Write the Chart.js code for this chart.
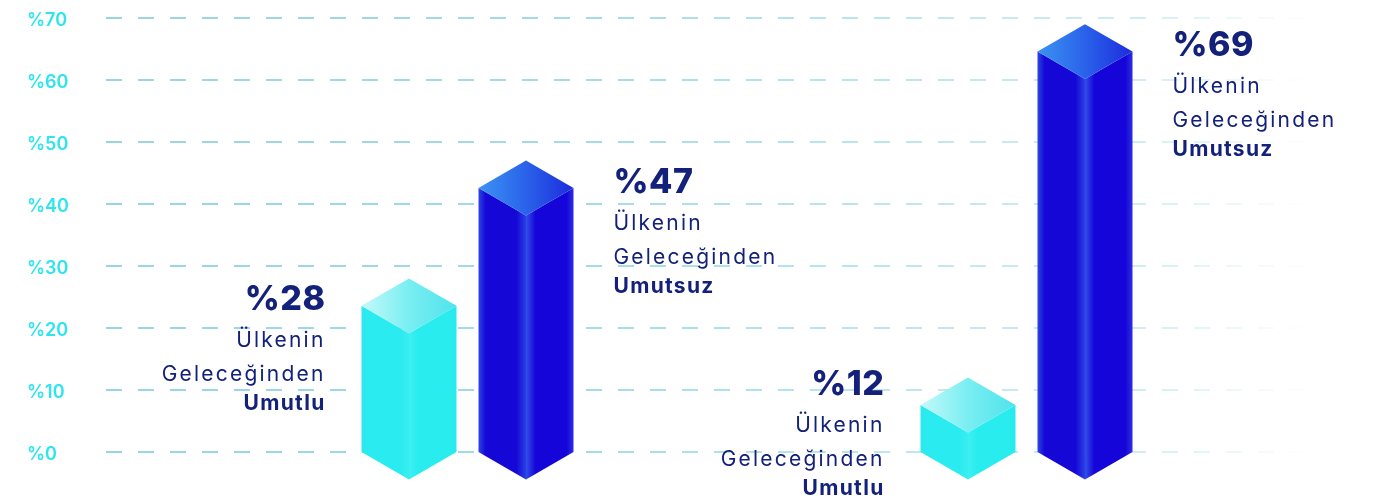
<!DOCTYPE html>
<html>
<head>
<meta charset="utf-8">
<script src="https://cdn.jsdelivr.net/npm/chart.js@4"></script>
<style>
  html, body { margin: 0; padding: 0; background: #fff; }
  #wrap { width: 1392px; height: 502px; position: relative; }
</style>
</head>
<body>
<div id="wrap"><canvas id="umutChart"></canvas></div>
<script>
// Data
var groupLabels = ['Grup 1', 'Grup 2'];
var seriesNames = ['Umutlu', 'Umutsuz'];
var umutluValues = [28, 12];
var umutsuzValues = [47, 69];
var captionLine1 = 'Ülkenin';
var captionLine2 = 'Geleceğinden';

var FONT = 'Inter, "Noto Sans", sans-serif';
var NAVY = '#13217a';

// dashed grid lines that fade out to the right
var gridPlugin = {
  id: 'fadeGrid',
  beforeDatasetsDraw: function(chart) {
    var ctx = chart.ctx;
    var y = chart.scales.y;
    var x0 = chart.chartArea.left - 82;
    var x1 = chart.chartArea.right + 6;
    var grad = ctx.createLinearGradient(x0, 0, x1, 0);
    grad.addColorStop(0, 'rgba(150,214,226,1)');
    grad.addColorStop(0.4, 'rgba(160,218,228,0.95)');
    grad.addColorStop(0.85, 'rgba(175,224,232,0.6)');
    grad.addColorStop(1, 'rgba(190,230,236,0)');
    ctx.save();
    ctx.strokeStyle = grad;
    ctx.lineWidth = 2;
    ctx.setLineDash([16, 16]);
    y.ticks.forEach(function(t) {
      var py = Math.round(y.getPixelForValue(t.value));
      ctx.beginPath();
      ctx.moveTo(x0, py);
      ctx.lineTo(x1, py);
      ctx.stroke();
    });
    ctx.restore();
  }
};

function poly(ctx, pts, fill) {
  ctx.beginPath();
  ctx.moveTo(pts[0][0], pts[0][1]);
  for (var i = 1; i < pts.length; i++) ctx.lineTo(pts[i][0], pts[i][1]);
  ctx.closePath();
  ctx.fillStyle = fill;
  ctx.fill();
}

var palettes = [
  { // cyan
    left: ['#2be9ee', '#2aebef', '#38eef2'],
    right: ['#3ef0f3', '#29ecee', '#2ae8ee'],
    top: ['#c4f9f9', '#79eef2', '#4fe3ec']
  },
  { // blue
    left: ['#2d46e4', '#1508d6', '#2a40e6'],
    right: ['#3250e8', '#1505d8', '#2b2ee2'],
    top: ['#3c93f3', '#2a62ea', '#1c2cdc']
  }
];

// isometric prisms drawn from bar elements
var prismPlugin = {
  id: 'prisms',
  afterDatasetsDraw: function(chart) {
    var ctx = chart.ctx;
    ctx.save();
    chart.data.datasets.forEach(function(ds, di) {
      var pal = palettes[di];
      chart.getDatasetMeta(di).data.forEach(function(bar, i) {
        var cx = bar.x, w = bar.width, h = w / 2;
        var top = bar.y, base = bar.base;
        var d = h * Math.tan(Math.PI / 6);
        var L = cx - h, R = cx + h;
        var g = ctx.createLinearGradient(L, 0, cx, 0);
        g.addColorStop(0, pal.left[0]);
        g.addColorStop(0.15, pal.left[1]);
        g.addColorStop(0.8, pal.left[1]);
        g.addColorStop(1, pal.left[2]);
        poly(ctx, [[L, top + d], [cx, top + 2 * d], [cx, base + d], [L, base]], g);
        g = ctx.createLinearGradient(cx, 0, R, 0);
        g.addColorStop(0, pal.right[0]);
        g.addColorStop(0.2, pal.right[1]);
        g.addColorStop(0.85, pal.right[1]);
        g.addColorStop(1, pal.right[2]);
        poly(ctx, [[cx, top + 2 * d], [R, top + d], [R, base], [cx, base + d]], g);
        g = ctx.createLinearGradient(L, top + d, R, top + d);
        g.addColorStop(0, pal.top[0]);
        g.addColorStop(0.5, pal.top[1]);
        g.addColorStop(1, pal.top[2]);
        poly(ctx, [[cx, top], [R, top + d], [cx, top + 2 * d], [L, top + d]], g);

        // caption
        var value = ds.data[i];
        var b = Math.min(top + 32, chart.height - 107);
        var tx, align;
        if (di === 0) { tx = L - 36; align = 'right'; }
        else { tx = R + 40; align = 'left'; }
        ctx.textAlign = align;
        ctx.textBaseline = 'alphabetic';
        ctx.fillStyle = NAVY;
        ctx.font = '800 34px ' + FONT;
        ctx.letterSpacing = '0.5px';
        ctx.fillText('%' + value, tx, b);
        ctx.font = '400 21px ' + FONT;
        ctx.letterSpacing = '2.2px';
        ctx.fillText(captionLine1, tx, b + 37);
        ctx.fillText(captionLine2, tx, b + 71);
        ctx.font = '700 21px ' + FONT;
        ctx.letterSpacing = '1.3px';
        ctx.fillText(ds.label, tx, b + 100);
        ctx.letterSpacing = '0px';
      });
    });
    ctx.restore();
  }
};

var umutctx = document.getElementById('umutChart').getContext('2d');
var umutChart = new Chart(umutctx, {
  type: 'bar',
  data: {
    labels: groupLabels,
    datasets: [{
      label: seriesNames[0],
      data: umutluValues,
      backgroundColor: 'rgba(0,0,0,0)'
    }, {
      label: seriesNames[1],
      data: umutsuzValues,
      backgroundColor: 'rgba(0,0,0,0)'
    }]
  },
  options: {
    responsive: true,
    maintainAspectRatio: false,
    animation: false,
    categoryPercentage: 0.4186,
    barPercentage: 0.812,
    layout: { padding: { left: 27, right: 86, top: 18, bottom: 50 } },
    plugins: { legend: { display: false }, tooltip: { enabled: false } },
    scales: {
      x: { display: false },
      y: {
        min: 0,
        max: 70,
        afterFit: function(scale) { scale.width = 161; },
        border: { display: false },
        grid: { display: false },
        ticks: {
          stepSize: 10,
          crossAlign: 'far',
          labelOffset: 3,
          color: '#2ee4ee',
          font: { family: FONT, size: 18, weight: '600', lineHeight: 1.0 },
          callback: function(v) { return '%' + v; }
        }
      }
    }
  },
  plugins: [gridPlugin, prismPlugin]
});
</script>
</body>
</html>
